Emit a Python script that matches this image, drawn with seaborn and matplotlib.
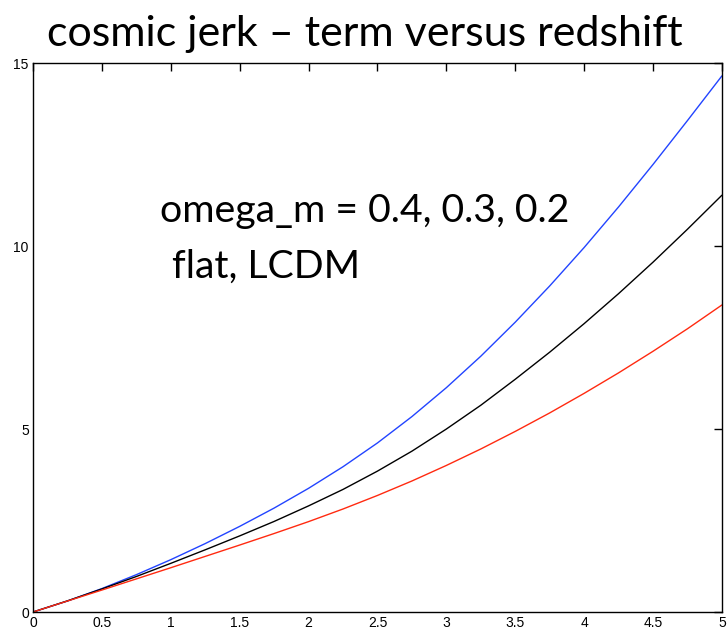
import numpy as np
import pandas as pd
import matplotlib
matplotlib.use("Agg")
import matplotlib.pyplot as plt
import seaborn as sns

# redshift grid and jerk term for three matter densities (flat LCDM)
redshift = [0.0, 0.25, 0.5, 0.75, 1.0, 1.25, 1.5, 1.75, 2.0, 2.25, 2.5,
            2.75, 3.0, 3.25, 3.5, 3.75, 4.0, 4.25, 4.5, 4.75, 5.0]
jerk_om04 = [0.0, 0.30, 0.64, 1.02, 1.43, 1.87, 2.34, 2.84, 3.38, 3.97, 4.62,
             5.34, 6.13, 6.99, 7.92, 8.91, 9.96, 11.07, 12.23, 13.43, 14.65]
jerk_om03 = [0.0, 0.305, 0.63, 0.97, 1.33, 1.70, 2.08, 2.475, 2.90, 3.35, 3.85,
             4.395, 5.00, 5.65, 6.36, 7.10, 7.88, 8.70, 9.56, 10.46, 11.39]
jerk_om02 = [0.0, 0.30, 0.60, 0.905, 1.21, 1.52, 1.83, 2.145, 2.47, 2.815, 3.185,
             3.58, 4.005, 4.455, 4.935, 5.44, 5.975, 6.535, 7.125, 7.74, 8.39]
omega_labels = ["0.4", "0.3", "0.2"]
line_colors = ["#2244ff", "#000000", "#ff2a10"]

xticks = [0, 0.5, 1, 1.5, 2, 2.5, 3, 3.5, 4, 4.5, 5]
xtick_labels = ["0", "0.5", "1", "1.5", "2", "2.5", "3", "3.5", "4", "4.5", "5"]
yticks = [0, 5, 10, 15]
ytick_labels = ["0", "5", "10", "15"]

df = pd.DataFrame({
    "z": redshift * 3,
    "jerk": jerk_om04 + jerk_om03 + jerk_om02,
    "omega_m": [omega_labels[0]] * len(redshift)
    + [omega_labels[1]] * len(redshift)
    + [omega_labels[2]] * len(redshift),
})

sns.set_style("white")
plt.rcParams["font.family"] = ["Liberation Sans Narrow", "Liberation Sans", "DejaVu Sans"]

fig = plt.figure(figsize=(7.27, 6.31), dpi=100)
ax = fig.add_axes([0.0454, 0.0301, 0.9476, 0.8699])

sns.lineplot(data=df, x="z", y="jerk", hue="omega_m",
             palette=dict(zip(omega_labels, line_colors)),
             linewidth=1.0, legend=False, ax=ax)

ax.set_xlim(0, 5)
ax.set_ylim(0, 15)
ax.set_xticks(xticks)
ax.set_xticklabels(xtick_labels)
ax.set_yticks(yticks)
ax.set_yticklabels(ytick_labels)
ax.set_xlabel("")
ax.set_ylabel("")
ax.tick_params(direction="in", length=6, width=1, top=True, right=True,
               labelsize=10, pad=3, colors="black")
for spine in ax.spines.values():
    spine.set_visible(True)
    spine.set_color("black")
    spine.set_linewidth(1.0)

fig.text(0.502, 1 - 46 / 631, "cosmic jerk \u2013 term versus redshift",
         ha="center", va="baseline", fontsize=31, family="Lato", color="black")
fig.text(160 / 727, 1 - 222 / 631, "omega_m = 0.4, 0.3, 0.2",
         ha="left", va="baseline", fontsize=28.3, family="Lato", color="black")
fig.text(172 / 727, 1 - 278 / 631, "flat, LCDM",
         ha="left", va="baseline", fontsize=28.3, family="Lato", color="black")

fig.savefig("out.png", dpi=100)
